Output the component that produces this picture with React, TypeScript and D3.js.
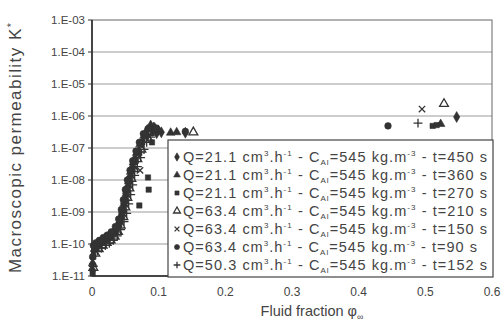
import React from "react";
import * as d3 from "d3";

// [fluid fraction, K*] per series
const s450: [number, number][] = [
  [0.001, 1.5e-11], [0.003, 6e-11], [0.006, 8e-11], [0.01, 1.1e-10], [0.016, 1.3e-10],
  [0.022, 1.6e-10], [0.028, 1.9e-10], [0.034, 2.6e-10], [0.04, 4.2e-10], [0.044, 8e-10],
  [0.047, 1.6e-9], [0.05, 3.2e-9], [0.053, 6e-9], [0.056, 1.2e-8], [0.06, 2.4e-8],
  [0.064, 4.5e-8], [0.07, 8e-8], [0.076, 1.6e-7], [0.083, 2.6e-7], [0.091, 3.4e-7],
  [0.097, 2.9e-7], [0.104, 3.1e-7], [0.14, 3.0e-7], [0.547, 9.3e-7],
];
const s360: [number, number][] = [
  [0.001, 2.5e-11], [0.004, 7e-11], [0.008, 9e-11], [0.013, 1.2e-10], [0.019, 1.5e-10],
  [0.025, 1.8e-10], [0.031, 2.2e-10], [0.037, 3.2e-10], [0.042, 5.5e-10], [0.046, 1.1e-9],
  [0.049, 2.2e-9], [0.052, 4.5e-9], [0.055, 9e-9], [0.058, 1.8e-8], [0.062, 3.5e-8],
  [0.067, 7e-8], [0.072, 1.3e-7], [0.078, 2.4e-7], [0.083, 3.8e-7], [0.088, 5.2e-7],
  [0.094, 4.4e-7], [0.1, 3.6e-7], [0.118, 3.0e-7], [0.127, 3.1e-7], [0.523, 5.6e-7],
];
const s270: [number, number][] = [
  [0.001, 1.2e-11], [0.002, 4e-11], [0.007, 7e-11], [0.012, 9e-11], [0.018, 1.1e-10],
  [0.024, 1.4e-10], [0.03, 1.7e-10], [0.036, 2.4e-10], [0.041, 4e-10], [0.045, 7e-10],
  [0.048, 1.4e-9], [0.051, 2.8e-9], [0.054, 5.5e-9], [0.057, 1.1e-8], [0.061, 2.2e-8],
  [0.066, 4e-8], [0.071, 7e-8], [0.075, 1.5e-7], [0.071, 1.6e-9], [0.085, 5e-9],
  [0.084, 1.2e-8], [0.09, 1.5e-7], [0.511, 4.9e-7], [0.517, 5.2e-7],
];
const s210: [number, number][] = [
  [0.002, 1.8e-11], [0.005, 5e-11], [0.01, 7e-11], [0.016, 9e-11], [0.022, 1.1e-10],
  [0.028, 1.3e-10], [0.034, 1.7e-10], [0.039, 2.4e-10], [0.043, 3.8e-10], [0.047, 7e-10],
  [0.05, 1.4e-9], [0.053, 2.8e-9], [0.056, 5.5e-9], [0.059, 1.1e-8], [0.063, 2.2e-8],
  [0.068, 4.5e-8], [0.074, 9e-8], [0.08, 1.8e-7], [0.086, 3e-7], [0.092, 4.2e-7],
  [0.099, 3.5e-7], [0.152, 3.1e-7], [0.528, 2.4e-6],
];
const s150: [number, number][] = [
  [0.001, 3e-11], [0.004, 8.5e-11], [0.009, 1.05e-10], [0.014, 1.25e-10], [0.02, 1.4e-10],
  [0.026, 1.65e-10], [0.032, 2e-10], [0.038, 2.8e-10], [0.043, 5e-10], [0.046, 9e-10],
  [0.049, 1.8e-9], [0.052, 3.6e-9], [0.055, 7e-9], [0.059, 1.4e-8], [0.062, 2.8e-8],
  [0.072, 2e-8], [0.069, 6e-8], [0.075, 1.1e-7], [0.08, 2e-7], [0.086, 2.2e-7],
  [0.495, 1.65e-6],
];
const s90: [number, number][] = [
  [0.001, 4e-11], [0.002, 9e-11], [0.006, 1.1e-10], [0.011, 1.3e-10], [0.017, 1.6e-10],
  [0.023, 1.9e-10], [0.029, 2.4e-10], [0.035, 3.5e-10], [0.04, 6e-10], [0.044, 1.2e-9],
  [0.047, 2.4e-9], [0.05, 5e-9], [0.053, 1e-8], [0.057, 2e-8], [0.061, 4e-8],
  [0.066, 8e-8], [0.071, 1.5e-7], [0.077, 2.8e-7], [0.084, 4e-7], [0.096, 4.2e-7],
  [0.14, 3.3e-7], [0.444, 4.9e-7],
];
const s152: [number, number][] = [
  [0.002, 2e-11], [0.008, 6e-11], [0.014, 7.5e-11], [0.02, 9e-11], [0.026, 1.05e-10],
  [0.032, 1.3e-10], [0.038, 1.8e-10], [0.043, 2.8e-10], [0.048, 5e-10], [0.052, 9e-10],
  [0.055, 1.8e-9], [0.058, 3.5e-9], [0.061, 7e-9], [0.064, 1.4e-8], [0.068, 2.6e-8],
  [0.073, 5e-8], [0.078, 9e-8], [0.082, 1.5e-7], [0.088, 2.2e-7], [0.489, 6e-7],
];

const legendQ = ["21.1", "21.1", "21.1", "63.4", "63.4", "63.4", "50.3"];
const legendT = ["450", "360", "270", "210", "150", "90", "152"];
const yTicks = [1e-11, 1e-10, 1e-9, 1e-8, 1e-7, 1e-6, 1e-5, 1e-4, 1e-3];
const xTicks = [0, 0.1, 0.2, 0.3, 0.4, 0.5, 0.6];

type Marker = { sym: d3.SymbolType; size: number; fill: boolean };
const markers: Marker[] = [
  { sym: d3.symbolDiamond, size: 34, fill: true },
  { sym: d3.symbolTriangle, size: 32, fill: true },
  { sym: d3.symbolSquare, size: 28, fill: true },
  { sym: d3.symbolTriangle, size: 34, fill: false },
  { sym: d3.symbolTimes, size: 28, fill: false },
  { sym: d3.symbolCircle, size: 34, fill: true },
  { sym: d3.symbolPlus, size: 28, fill: false },
];
const seriesData = [s450, s360, s270, s210, s150, s90, s152];

const W = 503;
const H = 326;
const margin = { left: 92, right: 11, top: 20, bottom: 50 };
const ink = "#333";
const txt = "#444";
const font = "'Liberation Sans', Arial, sans-serif";

export default function App() {
  const x = d3.scaleLinear().domain([0, 0.6]).range([margin.left, W - margin.right]);
  const y = d3.scaleLog().domain([1e-11, 1e-3]).range([H - margin.bottom, margin.top]);
  const [x0, x1] = x.range();
  const [yb, yt] = y.range();
  const fmt = (v: number) => "1.E-" + String(Math.round(-Math.log10(v))).padStart(2, "0");

  const mark = (m: Marker, cx: number, cy: number, key: string, scale = 1) => {
    const p = d3.symbol(m.sym, m.size * scale)()!;
    return (
      <path
        key={key}
        d={p}
        transform={`translate(${cx},${cy})`}
        fill={m.fill ? ink : "none"}
        stroke={ink}
        strokeWidth={m.fill ? 0.6 : 1.3}
      />
    );
  };

  const legX = 168;
  const legY = 140;
  const rowH = 18;

  return (
    <svg width={W} height={H} style={{ position: "fixed", left: 0, top: 0, background: "#fff" }} fontFamily={font}>
      <rect width={W} height={H} fill="#fff" />
      {/* gridlines */}
      {yTicks.slice(1, -1).map((t) => (
        <line key={t} x1={x0} x2={x1} y1={y(t)} y2={y(t)} stroke="#9a9a9a" strokeWidth={1} />
      ))}
      {/* frame */}
      <rect x={x0} y={yt} width={x1 - x0} height={yb - yt} fill="none" stroke="#666" strokeWidth={1} />
      <line x1={x0} x2={x0} y1={yt} y2={yb} stroke="#222" strokeWidth={1.5} />
      <line x1={x0} x2={x1} y1={yb} y2={yb} stroke="#222" strokeWidth={1.5} />
      {/* y ticks */}
      {yTicks.map((t) => (
        <g key={t}>
          <line x1={x0 - 4} x2={x0} y1={y(t)} y2={y(t)} stroke="#333" />
          <text x={x0 - 7} y={y(t) + 4} textAnchor="end" fontSize={11.5} fill={txt}>
            {fmt(t)}
          </text>
        </g>
      ))}
      {xTicks.map((t) => (
        <text key={t} x={x(t)} y={yb + 20} textAnchor="middle" fontSize={12} fill={txt}>
          {t === 0 ? "0" : t.toFixed(1)}
        </text>
      ))}
      {/* data */}
      {seriesData.map((s, i) =>
        s.map((d, j) => mark(markers[i], x(d[0]), y(d[1]), `${i}-${j}`))
      )}
      {/* legend */}
      <rect x={legX} y={legY} width={x1 - legX + 1} height={yb - legY + 1} fill="#fff" stroke="#444" strokeWidth={1.2} />
      {legendQ.map((q, i) => {
        const cy = legY + 17 + i * rowH;
        return (
          <g key={i}>
            {mark(markers[i], legX + 9, cy, "l" + i, 0.6)}
            <text
              x={legX + 15}
              y={cy + 5}
              fontSize={14.5}
              fill={txt}
              textLength={legendT[i] === "90" ? 294 : 304}
              lengthAdjust="spacing"
            >
              {`Q=${q} cm`}
              <tspan dy={-6} fontSize={8}>3</tspan>
              <tspan dy={6}>.h</tspan>
              <tspan dy={-6} fontSize={8}>-1</tspan>
              <tspan dy={6}>{" - C"}</tspan>
              <tspan dy={3} fontSize={8}>Al</tspan>
              <tspan dy={-3}>=545 kg.m</tspan>
              <tspan dy={-6} fontSize={8}>-3</tspan>
              <tspan dy={6}>{` - t=${legendT[i]} s`}</tspan>
            </text>
          </g>
        );
      })}
      {/* axis titles */}
      <text
        transform={`translate(21,${(yt + yb) / 2}) rotate(-90)`}
        textAnchor="middle"
        fontSize={17}
        fill={txt}
        textLength={250}
        lengthAdjust="spacing"
      >
        Macroscopic permeability K<tspan dy={-6} fontSize={11}>*</tspan>
      </text>
      <text x={(x0 + x1) / 2 + 20} y={yb + 40} textAnchor="middle" fontSize={14.5} fill={txt}>
        Fluid fraction φ<tspan dy={4} fontSize={9}>∞</tspan>
      </text>
    </svg>
  );
}
